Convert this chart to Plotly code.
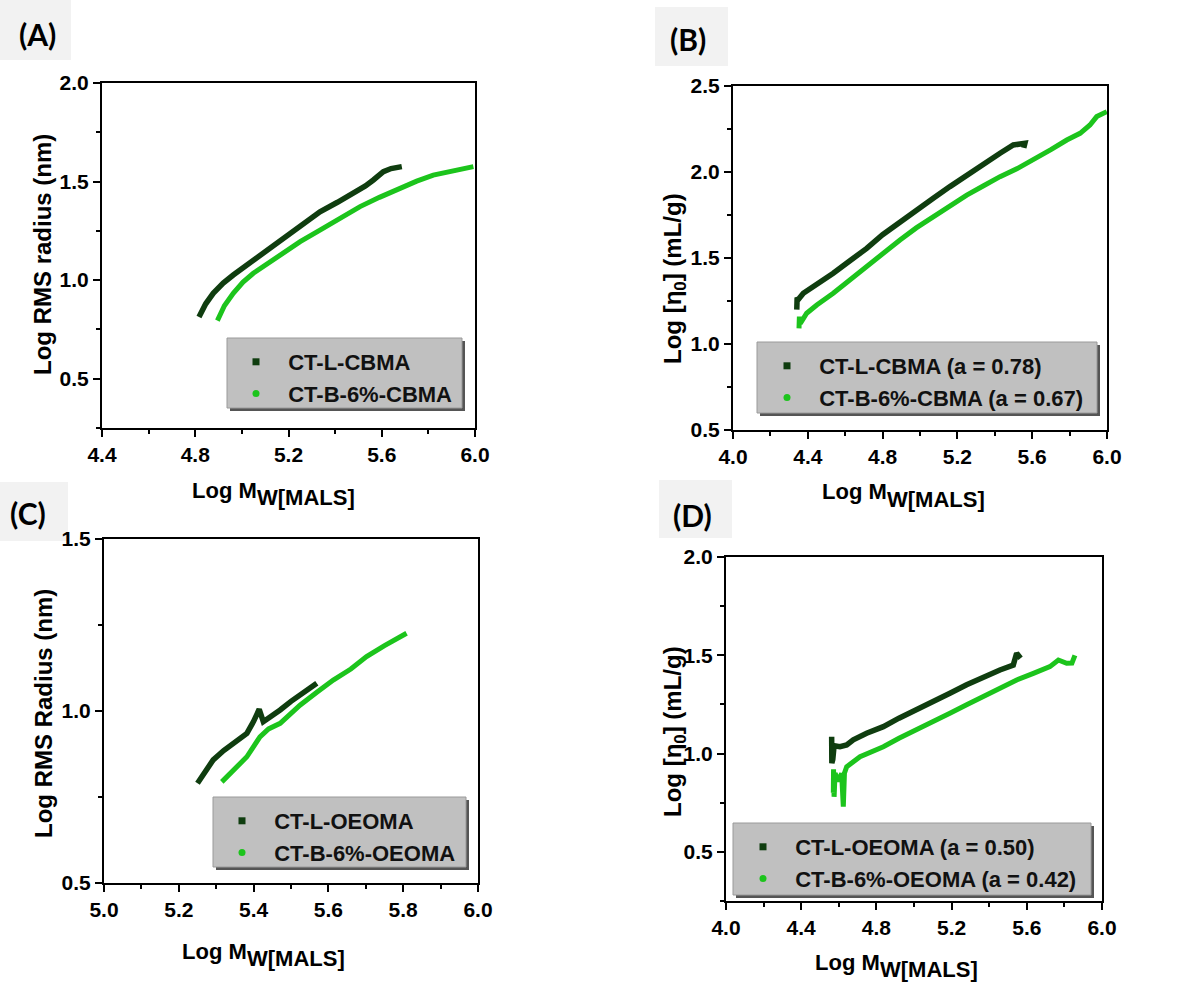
import plotly.graph_objects as go

W, H = 1198, 982
DARK = "#0f3d0f"
LIGHT = "#1cc41c"
FONT = "Liberation Sans, Arial, sans-serif"

# ---------------- data ----------------
# Panel A: Log RMS radius vs Log Mw (CBMA)
a_dark_x = [4.816, 4.845, 4.877, 4.92, 4.963, 5.02, 5.078, 5.135, 5.192, 5.26, 5.335, 5.41, 5.478, 5.53, 5.564, 5.607, 5.64, 5.686]
a_dark_y = [0.813, 0.88, 0.933, 0.985, 1.026, 1.075, 1.119, 1.168, 1.221, 1.283, 1.347, 1.395, 1.44, 1.478, 1.508, 1.55, 1.566, 1.576]
a_light_x = [4.895, 4.925, 4.963, 5.005, 5.049, 5.11, 5.178, 5.25, 5.335, 5.42, 5.507, 5.59, 5.678, 5.75, 5.821, 5.91, 5.993]
a_light_y = [0.795, 0.87, 0.933, 0.99, 1.035, 1.085, 1.136, 1.195, 1.254, 1.315, 1.373, 1.42, 1.466, 1.502, 1.533, 1.558, 1.576]

# Panel B: Log [eta0] vs Log Mw (CBMA)
b_dark_x = [4.341, 4.343, 4.345, 4.35, 4.376, 4.45, 4.536, 4.62, 4.715, 4.80, 4.893, 4.98, 5.071, 5.16, 5.25, 5.34, 5.428, 5.499, 5.53, 5.561, 5.555]
b_dark_y = [1.20, 1.27, 1.21, 1.26, 1.295, 1.345, 1.411, 1.48, 1.556, 1.635, 1.711, 1.78, 1.847, 1.915, 1.983, 2.05, 2.109, 2.157, 2.165, 2.167, 2.14]
b_light_x = [4.353, 4.355, 4.36, 4.394, 4.448, 4.536, 4.62, 4.715, 4.80, 4.893, 4.98, 5.071, 5.16, 5.25, 5.34, 5.428, 5.52, 5.606, 5.70, 5.785, 5.83, 5.856, 5.909, 5.945, 5.999]
b_light_y = [1.091, 1.16, 1.12, 1.179, 1.227, 1.295, 1.37, 1.45, 1.53, 1.605, 1.675, 1.74, 1.805, 1.866, 1.92, 1.973, 2.02, 2.07, 2.13, 2.186, 2.21, 2.225, 2.273, 2.322, 2.351]

# Panel C: Log RMS radius vs Log Mw (OEOMA)
c_dark_x = [5.25, 5.27, 5.292, 5.32, 5.346, 5.382, 5.40, 5.415, 5.426, 5.45, 5.471, 5.50, 5.524, 5.55, 5.569]
c_dark_y = [0.79, 0.825, 0.858, 0.885, 0.906, 0.935, 0.97, 1.005, 0.969, 0.985, 1.003, 1.028, 1.047, 1.065, 1.081]
c_light_x = [5.315, 5.35, 5.382, 5.417, 5.44, 5.471, 5.50, 5.524, 5.57, 5.613, 5.66, 5.702, 5.75, 5.809]
c_light_y = [0.794, 0.83, 0.867, 0.925, 0.948, 0.964, 0.995, 1.017, 1.055, 1.09, 1.122, 1.158, 1.19, 1.226]

# Panel D: Log [eta0] vs Log Mw (OEOMA)
d_dark_x = [4.562, 4.563, 4.565, 4.568, 4.575, 4.606, 4.642, 4.677, 4.748, 4.837, 4.92, 5.014, 5.10, 5.191, 5.28, 5.369, 5.457, 5.528, 5.546, 5.567]
d_dark_y = [1.086, 0.951, 1.06, 0.97, 1.04, 1.035, 1.044, 1.07, 1.103, 1.137, 1.18, 1.222, 1.265, 1.307, 1.35, 1.391, 1.425, 1.45, 1.51, 1.485]
d_light_x = [4.571, 4.572, 4.575, 4.58, 4.60, 4.615, 4.624, 4.63, 4.642, 4.713, 4.837, 4.92, 5.014, 5.10, 5.191, 5.28, 5.369, 5.457, 5.546, 5.635, 5.723, 5.768, 5.812, 5.84, 5.856]
d_light_y = [0.80, 0.92, 0.78, 0.90, 0.86, 0.90, 0.73, 0.90, 0.933, 0.984, 1.035, 1.078, 1.12, 1.16, 1.205, 1.248, 1.29, 1.33, 1.374, 1.408, 1.442, 1.476, 1.459, 1.46, 1.50]

legend_names = {
    "A": ["CT-L-CBMA", "CT-B-6%-CBMA"],
    "B": ["CT-L-CBMA (a = 0.78)", "CT-B-6%-CBMA (a = 0.67)"],
    "C": ["CT-L-OEOMA", "CT-B-6%-OEOMA"],
    "D": ["CT-L-OEOMA (a = 0.50)", "CT-B-6%-OEOMA (a = 0.42)"],
}

# ---------------- layout geometry (pixels) ----------------
def px(x):
    return x / W


def py(y):
    return 1 - y / H

panels = {
    "A": dict(box=(102, 83, 475, 428), xr=[4.4, 6.0], xt=[4.4, 4.8, 5.2, 5.6, 6.0], xm=0.2,
              yr=[0.25, 2.0], yt=[0.5, 1.0, 1.5, 2.0], ym=0.25,
              ytitle="Log RMS radius (nm)", ytitle_pos=(43, 255), xtitle_pos=(257, 490),
              label="(A)", label_box=(0, 0, 71, 60), label_pos=(37, 34),
              leg_box=(227, 338, 462, 408), leg_pos=(236, 341),
              dx=a_dark_x, dy=a_dark_y, lx=a_light_x, ly=a_light_y),
    "B": dict(box=(733, 86, 1107, 430), xr=[4.0, 6.0], xt=[4.0, 4.4, 4.8, 5.2, 5.6, 6.0], xm=0.2,
              yr=[0.5, 2.5], yt=[0.5, 1.0, 1.5, 2.0, 2.5], ym=0.25,
              ytitle="Log [η<sub>0</sub>] (mL/g)", ytitle_pos=(674, 279), xtitle_pos=(887, 492),
              label="(B)", label_box=(655, 7, 728, 66), label_pos=(688, 39),
              leg_box=(757, 342, 1097, 413), leg_pos=(767, 345),
              dx=b_dark_x, dy=b_dark_y, lx=b_light_x, ly=b_light_y),
    "C": dict(box=(104, 539, 478, 883), xr=[5.0, 6.0], xt=[5.0, 5.2, 5.4, 5.6, 5.8, 6.0], xm=0.1,
              yr=[0.5, 1.5], yt=[0.5, 1.0, 1.5], ym=0.25,
              ytitle="Log RMS Radius (nm)", ytitle_pos=(43, 714), xtitle_pos=(247, 951),
              label="(C)", label_box=(0, 482, 68, 541), label_pos=(28, 513),
              leg_box=(213, 797, 466, 867), leg_pos=(222, 800),
              dx=c_dark_x, dy=c_dark_y, lx=c_light_x, ly=c_light_y),
    "D": dict(box=(726, 557, 1102, 901), xr=[4.0, 6.0], xt=[4.0, 4.4, 4.8, 5.2, 5.6, 6.0], xm=0.2,
              yr=[0.25, 2.0], yt=[0.5, 1.0, 1.5, 2.0], ym=0.25,
              ytitle="Log [η<sub>0</sub>] (mL/g)", ytitle_pos=(674, 732), xtitle_pos=(880, 962),
              label="(D)", label_box=(659, 480, 732, 538), label_pos=(692, 515),
              leg_box=(733, 823, 1091, 895), leg_pos=(743, 826),
              dx=d_dark_x, dy=d_dark_y, lx=d_light_x, ly=d_light_y),
}

fig = go.Figure()
layout = dict(
    width=W, height=H, margin=dict(l=0, r=0, t=0, b=0, autoexpand=False),
    paper_bgcolor="white", plot_bgcolor="white", showlegend=True,
    font=dict(family=FONT, color="black"),
)
shapes = []
annotations = []

for i, (key, p) in enumerate(panels.items(), start=1):
    sfx = "" if i == 1 else str(i)
    xa, ya = "x" + sfx, "y" + sfx
    leg = "legend" + sfx
    l, t, r, b = p["box"]
    axis_common = dict(
        showline=True, linecolor="black", linewidth=2, mirror=True,
        ticks="outside", ticklen=7, tickwidth=2, tickcolor="black",
        showgrid=False, zeroline=False, tickformat=".1f", automargin=False,
        tickfont=dict(family=FONT, size=21, weight="bold", color="black"),
    )
    layout["xaxis" + sfx] = dict(
        axis_common, domain=[px(l), px(r)], range=p["xr"], tickvals=p["xt"], anchor=ya,
        minor=dict(ticks="outside", ticklen=4, tickwidth=2, tickcolor="black", dtick=p["xm"],
                   tick0=p["xr"][0], showgrid=False),
    )
    layout["yaxis" + sfx] = dict(
        axis_common, domain=[py(b), py(t)], range=p["yr"], tickvals=p["yt"], anchor=xa,
        minor=dict(ticks="outside", ticklen=4, tickwidth=2, tickcolor="black", dtick=p["ym"],
                   tick0=0, showgrid=False),
    )

    fig.add_trace(go.Scatter(x=p["dx"], y=p["dy"], xaxis=xa, yaxis=ya, mode="lines",
                             line=dict(color=DARK, width=5.5), showlegend=False, hoverinfo="skip"))
    fig.add_trace(go.Scatter(x=p["lx"], y=p["ly"], xaxis=xa, yaxis=ya, mode="lines",
                             line=dict(color=LIGHT, width=5), showlegend=False, hoverinfo="skip"))
    n1, n2 = legend_names[key]
    fig.add_trace(go.Scatter(x=[None], y=[None], xaxis=xa, yaxis=ya, mode="markers",
                             marker=dict(symbol="square", size=7, color=DARK),
                             name="\u00a0\u00a0" + n1, legend=leg))
    fig.add_trace(go.Scatter(x=[None], y=[None], xaxis=xa, yaxis=ya, mode="markers",
                             marker=dict(symbol="circle", size=7, color=LIGHT),
                             name="\u00a0\u00a0" + n2, legend=leg))

    lb = p["leg_box"]
    shapes.append(dict(type="rect", xref="paper", yref="paper",
                       x0=px(lb[0] + 3), x1=px(lb[2] + 3), y0=py(lb[3] + 3), y1=py(lb[1] + 3),
                       fillcolor="#555555", line=dict(width=0), layer="above"))
    shapes.append(dict(type="rect", xref="paper", yref="paper",
                       x0=px(lb[0]), x1=px(lb[2]), y0=py(lb[3]), y1=py(lb[1]),
                       fillcolor="#c0c0c0", line=dict(color="#9a9a9a", width=1), layer="above"))
    lp = p["leg_pos"]
    layout[leg] = dict(x=px(lp[0]), y=py(lp[1]), xanchor="left", yanchor="top",
                       bgcolor="rgba(0,0,0,0)", borderwidth=0,
                       font=dict(family=FONT, size=22, weight="bold", color="#111111"),
                       itemclick=False, itemdoubleclick=False, tracegroupgap=0)

    bx = p["label_box"]
    shapes.append(dict(type="rect", xref="paper", yref="paper",
                       x0=px(bx[0]), x1=px(bx[2]), y0=py(bx[3]), y1=py(bx[1]),
                       fillcolor="#f2f2f2", line=dict(width=0), layer="below"))
    annotations.append(dict(text=p["label"], x=px(p["label_pos"][0]), y=py(p["label_pos"][1]),
                            xref="paper", yref="paper", showarrow=False, xanchor="center",
                            yanchor="middle",
                            font=dict(family="Lato, Open Sans, sans-serif", size=30,
                                      weight="bold", color="black")))

    yx, yy = p["ytitle_pos"]
    annotations.append(dict(text=p["ytitle"], x=px(yx), y=py(yy), xref="paper", yref="paper",
                            showarrow=False, textangle=-90, xanchor="center", yanchor="middle",
                            font=dict(family=FONT, size=24, weight="bold", color="black")))
    tx, ty = p["xtitle_pos"]
    annotations.append(dict(text="Log M", x=px(tx), y=py(ty), xref="paper", yref="paper",
                            showarrow=False, xanchor="right", yanchor="middle", xshift=2,
                            font=dict(family=FONT, size=22, weight="bold", color="black")))
    annotations.append(dict(text="W[MALS]", x=px(tx), y=py(ty + 7), xref="paper", yref="paper",
                            showarrow=False, xanchor="left", yanchor="middle", xshift=-2,
                            font=dict(family=FONT, size=22, weight="bold", color="black")))

layout["shapes"] = shapes
layout["annotations"] = annotations
fig.update_layout(**layout)
fig.write_html("out.html")
